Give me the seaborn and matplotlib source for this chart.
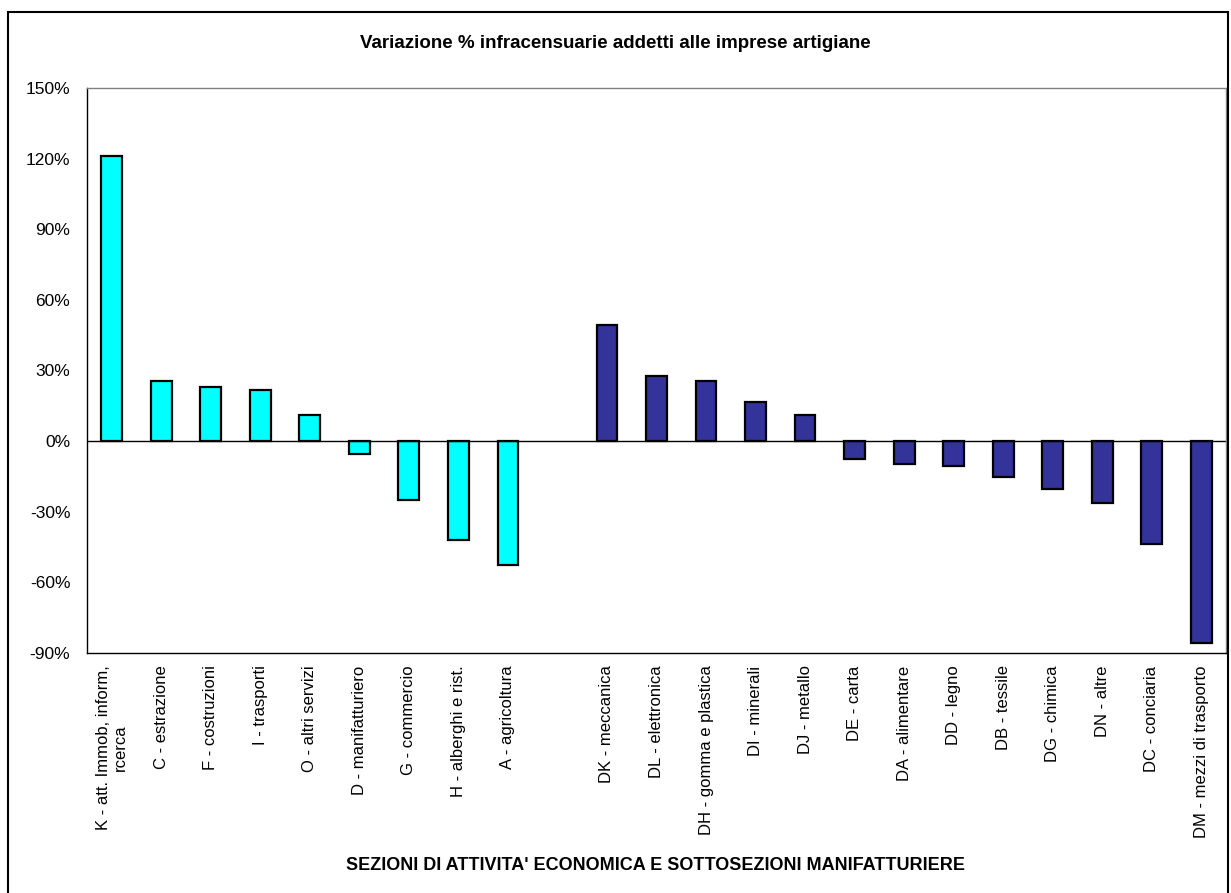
import numpy as np
import pandas as pd
import matplotlib
matplotlib.use("Agg")
import matplotlib.pyplot as plt
import matplotlib.patches as patches
from matplotlib.ticker import PercentFormatter
import seaborn as sns

# sezioni di attivita' economica (ciano) e sottosezioni manifatturiere (blu)
sezioni = ["K - att. Immob, inform,\nrcerca", "C - estrazione", "F - costruzioni",
           "I - trasporti", "O - altri servizi", "D - manifatturiero",
           "G - commercio", "H - alberghi e rist.", "A - agricoltura"]
sezioni_val = [121.0, 25.5, 23.0, 21.8, 11.0, -5.6, -24.8, -41.8, -52.6]

sottosezioni = ["DK - meccanica", "DL - elettronica", "DH - gomma e plastica",
                "DI - minerali", "DJ - metallo", "DE - carta", "DA - alimentare",
                "DD - legno", "DB - tessile", "DG - chimica", "DN - altre",
                "DC - conciaria", "DM - mezzi di trasporto"]
sottosezioni_val = [49.4, 27.7, 25.6, 16.7, 11.3, -7.6, -9.8, -10.6, -15.1,
                    -20.4, -26.4, -43.6, -85.6]

y_ticks = [-90, -60, -30, 0, 30, 60, 90, 120, 150]

titolo = "Variazione % infracensuarie addetti alle imprese artigiane"
asse_x = "SEZIONI DI ATTIVITA' ECONOMICA E SOTTOSEZIONI MANIFATTURIERE"

df = pd.DataFrame({
    "cat": sezioni + sottosezioni,
    "val": sezioni_val + sottosezioni_val,
    "gruppo": ["sez"] * len(sezioni) + ["sotto"] * len(sottosezioni),
})
order = sezioni + [" "] + sottosezioni

sns.set_style("white")
plt.rcParams["font.family"] = ["Liberation Sans", "DejaVu Sans"]
plt.rcParams["axes.unicode_minus"] = False
plt.rcParams["text.color"] = "black"
plt.rcParams["xtick.color"] = "black"
plt.rcParams["ytick.color"] = "black"

fig = plt.figure(figsize=(12.31, 8.93), dpi=100)
ax = fig.add_axes([87 / 1231, 1 - 653 / 893, (1226 - 87) / 1231, (653 - 88) / 893])

sns.barplot(data=df, x="cat", y="val", hue="gruppo", order=order,
            palette={"sez": "#00FFFF", "sotto": "#333399"}, saturation=1,
            dodge=False, width=0.42, edgecolor="black", linewidth=1.6,
            legend=False, ax=ax)

ax.axhline(0, color="black", linewidth=1.0, zorder=1)
ax.set_ylim(-90, 150)
ax.set_yticks(y_ticks)
ax.yaxis.set_major_formatter(PercentFormatter(xmax=100, decimals=0))
ax.set_xlim(-0.5, len(order) - 0.5)
ax.set_xlabel("")
ax.set_ylabel("")
ax.tick_params(axis="y", length=0, pad=12, labelsize=12.5, labelcolor="black")
ax.tick_params(axis="x", length=0, pad=9, labelsize=12, labelcolor="black")
for lab in ax.get_xticklabels():
    lab.set_rotation(90)
    lab.set_multialignment("center")

for side in ["top", "right"]:
    ax.spines[side].set_color("#808080")
    ax.spines[side].set_linewidth(1.0)
for side in ["left", "bottom"]:
    ax.spines[side].set_color("black")
    ax.spines[side].set_linewidth(1.0)

fig.text(0.5, 1 - 44 / 893, titolo, ha="center", va="center",
         fontsize=13.5, fontweight="bold")
fig.text(656 / 1231, 1 - 865 / 893, asse_x, ha="center", va="center",
         fontsize=13, fontweight="bold")

# cornice del grafico
fig.patches.append(patches.Rectangle((8 / 1231, -0.02), (1228 - 8) / 1231,
                                     1.02 - 12 / 893, transform=fig.transFigure,
                                     fill=False, edgecolor="black", linewidth=1.5))

fig.savefig("out.png", dpi=100)
